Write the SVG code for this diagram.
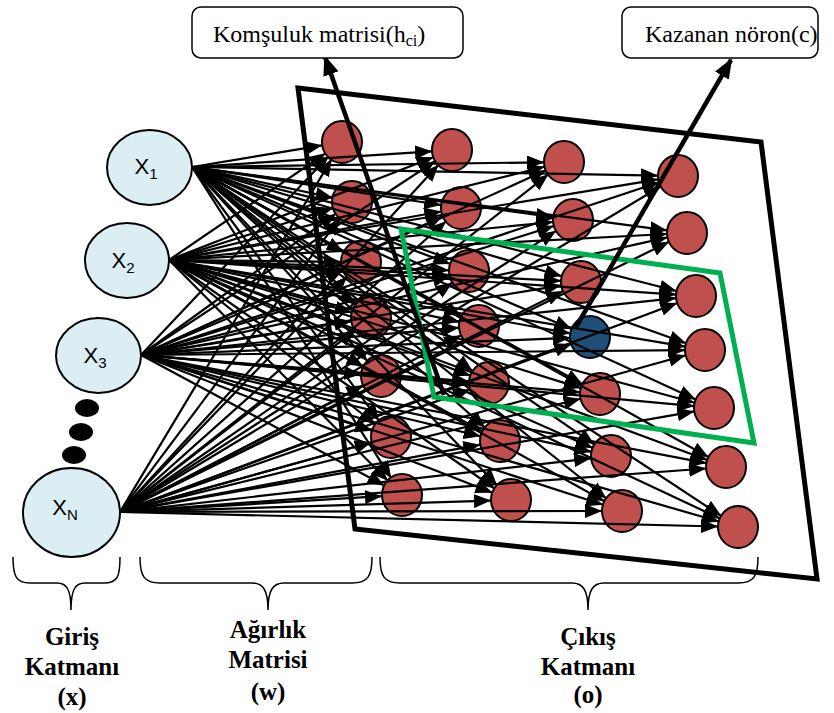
<svg xmlns="http://www.w3.org/2000/svg" width="834" height="713" viewBox="0 0 834 713">
<style>
.in{fill:#dbeef4;stroke:#000;stroke-width:2}
.out{fill:#c0504d;stroke:#000;stroke-width:2}
.win{fill:#1f4e79;stroke:#000;stroke-width:2}
.xt{font-family:"Liberation Sans",Arial,sans-serif;font-size:22px;fill:#000;text-anchor:middle}
.sub{font-size:15px}
.conn line{stroke:#000;stroke-width:2.2;marker-end:url(#ah)}
.thick{stroke:#000;stroke-width:4.5;marker-end:url(#ahb)}
.box{fill:#fff;stroke:#000;stroke-width:1.5}
.bt{font-family:"Liberation Serif","Times New Roman",serif;font-size:24px;fill:#000}
.brace{fill:none;stroke:#000;stroke-width:1.5}
.lb{font-family:"Liberation Serif","Times New Roman",serif;font-size:25px;font-weight:bold;fill:#000;text-anchor:middle}
.quad{fill:none;stroke:#000;stroke-width:5;stroke-linejoin:miter}
.green{fill:none;stroke:#00b050;stroke-width:5}
</style>
<defs>
<marker id="ah" markerUnits="userSpaceOnUse" markerWidth="17" markerHeight="14" refX="17" refY="7" orient="auto"><path d="M0,0 L17,7 L0,14 z" fill="#000"/></marker>
<marker id="ahb" markerUnits="userSpaceOnUse" markerWidth="20" markerHeight="16" refX="18" refY="8" orient="auto"><path d="M0,0 L20,8 L0,16 z" fill="#000"/></marker>
</defs>

<g id="input-nodes">
<g id="x1"><ellipse class="in" cx="149.5" cy="167.5" rx="42.5" ry="37.5"/><text class="xt" x="146" y="174">X<tspan class="sub" dy="5">1</tspan></text></g>
<g id="x2"><ellipse class="in" cx="127" cy="260.5" rx="42" ry="37.5"/><text class="xt" x="123" y="268">X<tspan class="sub" dy="5">2</tspan></text></g>
<g id="x3"><ellipse class="in" cx="98.5" cy="355.5" rx="42.5" ry="37.5"/><text class="xt" x="95" y="363">X<tspan class="sub" dy="5">3</tspan></text></g>
<g id="dots"><ellipse cx="87" cy="408" rx="12" ry="9"/><ellipse cx="81" cy="432" rx="12" ry="9"/><ellipse cx="74" cy="455" rx="12" ry="9"/></g>
<g id="xn"><ellipse class="in" cx="71.5" cy="512.5" rx="48.5" ry="44.5"/><text class="xt" x="65" y="515">X<tspan class="sub" dy="5">N</tspan></text></g>
</g>

<g id="output-nodes">
<g id="o11"><ellipse class="out" cx="342" cy="142" rx="20" ry="21"/></g>
<g id="o12"><ellipse class="out" cx="352" cy="202" rx="20" ry="21"/></g>
<g id="o13"><ellipse class="out" cx="361" cy="262" rx="20" ry="21"/></g>
<g id="o14"><ellipse class="out" cx="371" cy="318" rx="20" ry="21"/></g>
<g id="o15"><ellipse class="out" cx="381" cy="376" rx="20" ry="21"/></g>
<g id="o16"><ellipse class="out" cx="391" cy="437" rx="20" ry="21"/></g>
<g id="o17"><ellipse class="out" cx="402" cy="495" rx="20" ry="21"/></g>
<g id="o21"><ellipse class="out" cx="452" cy="150" rx="20" ry="21"/></g>
<g id="o22"><ellipse class="out" cx="461" cy="208" rx="20" ry="21"/></g>
<g id="o23"><ellipse class="out" cx="469" cy="271" rx="20" ry="21"/></g>
<g id="o24"><ellipse class="out" cx="479" cy="326" rx="20" ry="21"/></g>
<g id="o25"><ellipse class="out" cx="489" cy="383" rx="20" ry="21"/></g>
<g id="o26"><ellipse class="out" cx="500" cy="441" rx="20" ry="21"/></g>
<g id="o27"><ellipse class="out" cx="511" cy="500" rx="20" ry="21"/></g>
<g id="o31"><ellipse class="out" cx="564" cy="162" rx="20" ry="21"/></g>
<g id="o32"><ellipse class="out" cx="573" cy="220" rx="20" ry="21"/></g>
<g id="o33"><ellipse class="out" cx="581" cy="282" rx="20" ry="21"/></g>
<g id="o34"><ellipse class="win" cx="590" cy="337" rx="20" ry="21"/></g>
<g id="o35"><ellipse class="out" cx="600" cy="394" rx="20" ry="21"/></g>
<g id="o36"><ellipse class="out" cx="611" cy="456" rx="20" ry="21"/></g>
<g id="o37"><ellipse class="out" cx="622" cy="511" rx="20" ry="21"/></g>
<g id="o41"><ellipse class="out" cx="678" cy="176" rx="20" ry="21"/></g>
<g id="o42"><ellipse class="out" cx="687" cy="233" rx="20" ry="21"/></g>
<g id="o43"><ellipse class="out" cx="696" cy="296" rx="20" ry="21"/></g>
<g id="o44"><ellipse class="out" cx="705" cy="350" rx="20" ry="21"/></g>
<g id="o45"><ellipse class="out" cx="714" cy="408" rx="20" ry="21"/></g>
<g id="o46"><ellipse class="out" cx="726" cy="467" rx="20" ry="21"/></g>
<g id="o47"><ellipse class="out" cx="738" cy="527" rx="20" ry="21"/></g>
</g>

<g id="connectors" class="conn">
<line x1="192" y1="167" x2="322.3" y2="145.3"/>
<line x1="192" y1="167" x2="332.5" y2="197.7"/>
<line x1="192" y1="167" x2="343.6" y2="252.2"/>
<line x1="192" y1="167" x2="355.7" y2="305.1"/>
<line x1="192" y1="167" x2="367.6" y2="361.2"/>
<line x1="192" y1="167" x2="379.1" y2="420.9"/>
<line x1="192" y1="167" x2="391.2" y2="478.2"/>
<line x1="192" y1="167" x2="432.0" y2="151.3"/>
<line x1="192" y1="167" x2="441.2" y2="205.0"/>
<line x1="192" y1="167" x2="450.3" y2="264.0"/>
<line x1="192" y1="167" x2="461.5" y2="316.3"/>
<line x1="192" y1="167" x2="472.8" y2="371.2"/>
<line x1="192" y1="167" x2="485.1" y2="427.7"/>
<line x1="192" y1="167" x2="497.2" y2="485.6"/>
<line x1="192" y1="167" x2="544.0" y2="162.3"/>
<line x1="192" y1="167" x2="553.2" y2="217.2"/>
<line x1="192" y1="167" x2="561.8" y2="276.3"/>
<line x1="192" y1="167" x2="571.6" y2="329.1"/>
<line x1="192" y1="167" x2="582.5" y2="384.3"/>
<line x1="192" y1="167" x2="594.5" y2="444.6"/>
<line x1="192" y1="167" x2="606.4" y2="498.5"/>
<line x1="192" y1="167" x2="658.0" y2="175.6"/>
<line x1="192" y1="167" x2="667.2" y2="230.4"/>
<line x1="192" y1="167" x2="676.6" y2="291.0"/>
<line x1="192" y1="167" x2="686.2" y2="343.3"/>
<line x1="192" y1="167" x2="695.8" y2="399.6"/>
<line x1="192" y1="167" x2="708.6" y2="457.2"/>
<line x1="192" y1="167" x2="721.3" y2="516.0"/>

<line x1="169" y1="260" x2="325.5" y2="153.3"/>
<line x1="169" y1="260" x2="332.9" y2="208.0"/>
<line x1="169" y1="260" x2="341.0" y2="261.8"/>
<line x1="169" y1="260" x2="351.8" y2="312.5"/>
<line x1="169" y1="260" x2="363.5" y2="366.4"/>
<line x1="169" y1="260" x2="375.4" y2="424.5"/>
<line x1="169" y1="260" x2="387.9" y2="480.8"/>
<line x1="169" y1="260" x2="433.4" y2="157.2"/>
<line x1="169" y1="260" x2="441.3" y2="211.5"/>
<line x1="169" y1="260" x2="449.0" y2="270.3"/>
<line x1="169" y1="260" x2="459.4" y2="321.8"/>
<line x1="169" y1="260" x2="470.3" y2="375.8"/>
<line x1="169" y1="260" x2="482.5" y2="431.4"/>
<line x1="169" y1="260" x2="494.6" y2="488.5"/>
<line x1="169" y1="260" x2="544.6" y2="166.8"/>
<line x1="169" y1="260" x2="553.1" y2="222.0"/>
<line x1="169" y1="260" x2="561.0" y2="280.9"/>
<line x1="169" y1="260" x2="570.3" y2="333.4"/>
<line x1="169" y1="260" x2="580.9" y2="388.1"/>
<line x1="169" y1="260" x2="592.7" y2="447.9"/>
<line x1="169" y1="260" x2="604.5" y2="501.3"/>
<line x1="169" y1="260" x2="658.3" y2="179.3"/>
<line x1="169" y1="260" x2="667.0" y2="234.0"/>
<line x1="169" y1="260" x2="676.0" y2="294.6"/>
<line x1="169" y1="260" x2="685.3" y2="346.7"/>
<line x1="169" y1="260" x2="694.7" y2="402.8"/>
<line x1="169" y1="260" x2="707.3" y2="460.0"/>
<line x1="169" y1="260" x2="719.9" y2="518.5"/>

<line x1="141" y1="355" x2="328.3" y2="156.5"/>
<line x1="141" y1="355" x2="335.8" y2="213.7"/>
<line x1="141" y1="355" x2="342.6" y2="269.8"/>
<line x1="141" y1="355" x2="351.3" y2="321.2"/>
<line x1="141" y1="355" x2="361.1" y2="374.3"/>
<line x1="141" y1="355" x2="372.0" y2="430.8"/>
<line x1="141" y1="355" x2="384.4" y2="485.5"/>
<line x1="141" y1="355" x2="435.3" y2="161.0"/>
<line x1="141" y1="355" x2="442.8" y2="216.3"/>
<line x1="141" y1="355" x2="449.6" y2="276.0"/>
<line x1="141" y1="355" x2="459.1" y2="327.7"/>
<line x1="141" y1="355" x2="469.1" y2="381.4"/>
<line x1="141" y1="355" x2="480.6" y2="436.3"/>
<line x1="141" y1="355" x2="492.4" y2="492.7"/>
<line x1="141" y1="355" x2="545.8" y2="170.3"/>
<line x1="141" y1="355" x2="553.9" y2="226.0"/>
<line x1="141" y1="355" x2="561.3" y2="285.3"/>
<line x1="141" y1="355" x2="570.0" y2="337.8"/>
<line x1="141" y1="355" x2="580.1" y2="392.3"/>
<line x1="141" y1="355" x2="591.4" y2="451.8"/>
<line x1="141" y1="355" x2="603.0" y2="504.8"/>
<line x1="141" y1="355" x2="659.0" y2="182.3"/>
<line x1="141" y1="355" x2="667.5" y2="237.4"/>
<line x1="141" y1="355" x2="676.1" y2="298.1"/>
<line x1="141" y1="355" x2="685.0" y2="350.2"/>
<line x1="141" y1="355" x2="694.1" y2="406.2"/>
<line x1="141" y1="355" x2="706.4" y2="463.2"/>
<line x1="141" y1="355" x2="718.8" y2="521.5"/>

<line x1="120" y1="512" x2="331.7" y2="159.1"/>
<line x1="120" y1="512" x2="340.0" y2="218.0"/>
<line x1="120" y1="512" x2="347.1" y2="276.4"/>
<line x1="120" y1="512" x2="355.2" y2="330.2"/>
<line x1="120" y1="512" x2="363.3" y2="385.2"/>
<line x1="120" y1="512" x2="371.7" y2="442.3"/>
<line x1="120" y1="512" x2="382.0" y2="496.2"/>
<line x1="120" y1="512" x2="438.5" y2="164.7"/>
<line x1="120" y1="512" x2="446.1" y2="221.3"/>
<line x1="120" y1="512" x2="452.5" y2="282.4"/>
<line x1="120" y1="512" x2="461.2" y2="335.2"/>
<line x1="120" y1="512" x2="470.1" y2="389.6"/>
<line x1="120" y1="512" x2="480.3" y2="444.7"/>
<line x1="120" y1="512" x2="491.0" y2="500.6"/>
<line x1="120" y1="512" x2="548.3" y2="174.4"/>
<line x1="120" y1="512" x2="556.2" y2="230.8"/>
<line x1="120" y1="512" x2="563.1" y2="290.9"/>
<line x1="120" y1="512" x2="571.3" y2="344.0"/>
<line x1="120" y1="512" x2="580.6" y2="398.8"/>
<line x1="120" y1="512" x2="591.1" y2="458.3"/>
<line x1="120" y1="512" x2="602.0" y2="511.0"/>
<line x1="120" y1="512" x2="660.9" y2="186.3"/>
<line x1="120" y1="512" x2="669.1" y2="241.8"/>
<line x1="120" y1="512" x2="677.3" y2="303.0"/>
<line x1="120" y1="512" x2="685.7" y2="355.3"/>
<line x1="120" y1="512" x2="694.3" y2="411.4"/>
<line x1="120" y1="512" x2="706.1" y2="468.5"/>
<line x1="120" y1="512" x2="718.0" y2="526.5"/>
</g>

<g id="output-layer-frame">
<polygon class="quad" points="298,88 761,142 817,579 355,529"/>
</g>
<g id="neighborhood">
<polygon class="green" points="401,229 720,273 754,443 434,397"/>
</g>

<g id="pointer-lines">
<line class="thick" x1="444" y1="395" x2="325" y2="57"/>
<line class="thick" x1="576" y1="327" x2="731" y2="60"/>
</g>

<g id="label-komsuluk">
<rect class="box" x="192" y="7" width="271" height="51" rx="9"/>
<text class="bt" x="213" y="42">Komşuluk matrisi(h<tspan font-size="16" dy="4">ci</tspan><tspan dy="-4">)</tspan></text>
</g>
<g id="label-kazanan">
<rect class="box" x="622" y="7" width="196" height="51" rx="9"/>
<text class="bt" x="645" y="42">Kazanan nöron(c)</text>
</g>

<g id="brace-giris">
<path class="brace" d="M13,557 C13,576 16,583 30,583 L57,583 C67,583 71,590 71,610 C71,590 75,583 85,583 L104,583 C118,583 120,576 120,557"/>
<text class="lb" x="72" y="645">Giriş</text>
<text class="lb" x="72" y="675">Katmanı</text>
<text class="lb" x="72" y="705">(x)</text>
</g>
<g id="brace-agirlik">
<path class="brace" d="M140,557 C140,576 144,583 160,583 L252,583 C263,583 268,590 268,610 C268,590 273,583 284,583 L352,583 C368,583 372,576 372,557"/>
<text class="lb" x="268" y="638">Ağırlık</text>
<text class="lb" x="268" y="668">Matrisi</text>
<text class="lb" x="268" y="700">(w)</text>
</g>
<g id="brace-cikis">
<path class="brace" d="M380,557 C380,576 384,583 400,583 L572,583 C583,583 588,590 588,610 C588,590 593,583 604,583 L738,583 C754,583 758,576 758,557"/>
<text class="lb" x="588" y="645">Çıkış</text>
<text class="lb" x="588" y="675">Katmanı</text>
<text class="lb" x="588" y="703">(o)</text>
</g>
</svg>
